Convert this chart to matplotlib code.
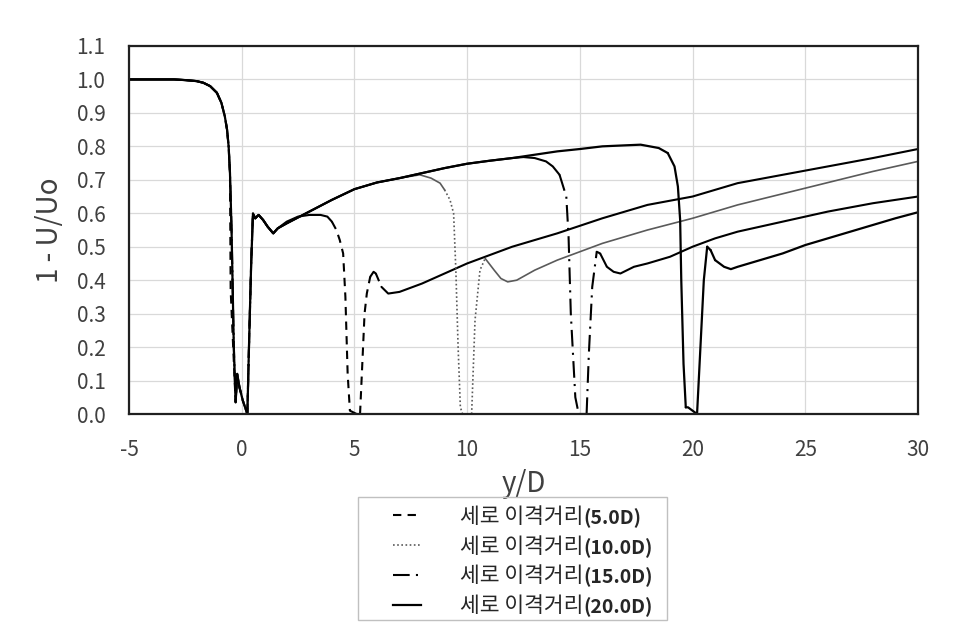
import numpy as np
import matplotlib
matplotlib.use('Agg')
import matplotlib.pyplot as plt
from matplotlib.lines import Line2D
from matplotlib.patches import Rectangle

plt.rcParams['font.family'] = ['Noto Sans CJK KR', 'DejaVu Sans']
plt.rcParams['axes.unicode_minus'] = False

# ---- data ----
# free stream part and the sharp wake of the first cylinder (shared by all cases)
x_front = [-5, -4, -3, -2.5, -2, -1.7, -1.4, -1.1, -0.9, -0.75, -0.65, -0.58, -0.52]
y_front = [1.0, 1.0, 1.0, 0.998, 0.995, 0.99, 0.98, 0.96, 0.93, 0.89, 0.85, 0.80, 0.72]
x_wake = [-0.45, -0.35, -0.27, -0.2, -0.1, 0.05, 0.25, 0.33, 0.42, 0.5, 0.6, 0.75, 0.95, 1.15, 1.4, 1.6]
y_wake = [0.55, 0.2, 0.035, 0.12, 0.08, 0.04, 0.0, 0.22, 0.45, 0.60, 0.585, 0.595, 0.58, 0.56, 0.54, 0.555]

# rising envelope between the cylinders
x_env = [2, 3, 4, 5, 6, 7, 8, 9, 10, 11, 12, 13, 14, 15, 16, 17, 17.7]
y_env = [0.57, 0.605, 0.64, 0.672, 0.692, 0.705, 0.72, 0.735, 0.748, 0.757, 0.765,
         0.775, 0.785, 0.792, 0.80, 0.803, 0.805]

x_5d = [2.0, 2.5, 3.0, 3.5, 3.8, 4.0, 4.2, 4.35, 4.5, 4.6, 4.7, 4.8, 5.1, 5.25, 5.35,
        5.45, 5.55, 5.7, 5.85, 5.95, 6.2, 6.5, 7.0, 8, 10, 12, 14, 16, 18, 20, 22, 24,
        26, 28, 30]
y_5d = [0.575, 0.59, 0.595, 0.595, 0.59, 0.575, 0.55, 0.52, 0.48, 0.35, 0.12, 0.01,
        0.0, 0.0, 0.15, 0.30, 0.36, 0.41, 0.425, 0.42, 0.38, 0.36, 0.365, 0.39, 0.45,
        0.50, 0.54, 0.585, 0.625, 0.65, 0.69, 0.715, 0.74, 0.765, 0.792]

x_10d = [7.9, 8.4, 8.8, 9.0, 9.24, 9.4, 9.5, 9.6, 9.7, 9.8, 10.2, 10.35, 10.57, 10.8,
         11.2, 11.5, 11.8, 12.2, 13, 14, 15, 16, 18, 20, 22, 25, 28, 30]
y_10d = [0.715, 0.705, 0.69, 0.67, 0.64, 0.60, 0.43, 0.2, 0.02, 0.0, 0.0, 0.28, 0.43,
         0.465, 0.43, 0.405, 0.395, 0.40, 0.43, 0.46, 0.485, 0.51, 0.55, 0.585, 0.625,
         0.675, 0.725, 0.755]

x_15d = [12.5, 13, 13.5, 13.8, 14.1, 14.4, 14.5, 14.6, 14.8, 14.95, 15.3, 15.4, 15.55,
         15.75, 15.9, 16.2, 16.5, 16.8, 17.4, 18, 19, 20, 21, 22, 24, 25, 26, 28, 30]
y_15d = [0.768, 0.765, 0.755, 0.74, 0.715, 0.65, 0.53, 0.30, 0.05, 0.0, 0.0, 0.18, 0.38,
         0.485, 0.48, 0.44, 0.425, 0.42, 0.44, 0.45, 0.47, 0.50, 0.525, 0.545, 0.575,
         0.59, 0.605, 0.63, 0.65]

x_20d = [18.5, 18.9, 19.2, 19.35, 19.45, 19.5, 19.6, 19.7, 19.8, 20.2, 20.35, 20.5,
         20.65, 20.8, 21.0, 21.4, 21.7, 22, 23, 24, 25, 26, 27, 28, 29, 30]
y_20d = [0.795, 0.78, 0.74, 0.68, 0.58, 0.40, 0.15, 0.02, 0.02, 0.0, 0.2, 0.4, 0.50,
         0.49, 0.46, 0.44, 0.433, 0.44, 0.46, 0.48, 0.505, 0.525, 0.545, 0.565, 0.585,
         0.603]

label_kr = '세로 이격거리'
label_gap = ['(5.0D)', '(10.0D)', '(15.0D)', '(20.0D)']


def build(x_tail, y_tail, env_until=None, spike=False):
    xs = list(x_front)
    ys = list(y_front)
    if spike:
        xs += [-0.49] + x_wake[2:]
        ys += [0.37] + y_wake[2:]
    else:
        xs += x_wake
        ys += y_wake
    if env_until is not None:
        for xe, ye in zip(x_env, y_env):
            if xe <= env_until:
                xs.append(xe)
                ys.append(ye)
    return xs + x_tail, ys + y_tail


series = [
    build(x_5d, y_5d, spike=True),
    build(x_10d, y_10d, env_until=7),
    build(x_15d, y_15d, env_until=12),
    build(x_20d, y_20d, env_until=17.7),
]
styles = [(0, (4, 3)), (0, (1, 1.5)), (0, (8, 3, 1, 3)), 'solid']
colors = ['black', '#5a5a5a', 'black', 'black']
widths = [1.5, 1.2, 1.5, 1.6]


def draw_series(ax, xs, ys, ls, color, lw):
    '''
    excel draws dense noisy data: gentle parts look solid, steep parts show the dash
    '''
    pts = ax.transData.transform(np.column_stack([xs, ys]))
    steep = []
    for i in range(len(xs) - 1):
        dx, dy = pts[i + 1] - pts[i]
        steep.append(abs(dy) > 1.5 * abs(dx))
    start = 0
    for i in range(1, len(steep) + 1):
        if i == len(steep) or steep[i] != steep[start]:
            style = ls if steep[start] else 'solid'
            ax.plot(xs[start:i + 1], ys[start:i + 1], color=color, lw=lw,
                    linestyle=style, solid_joinstyle='round', solid_capstyle='round')
            start = i


fig = plt.figure(figsize=(9.75, 6.35), dpi=100)
ax = fig.add_axes([0.1323, 0.348, 0.8092, 0.5796])
ax.set_xlim(-5, 30)
ax.set_ylim(0, 1.1)

for (xs, ys), ls, c, lw in zip(series, styles, colors, widths):
    draw_series(ax, xs, ys, ls, c, lw)

ax.set_xticks(range(-5, 31, 5))
ax.set_yticks(np.arange(0, 1.101, 0.1))
ax.set_yticklabels(['%.1f' % v for v in np.arange(0, 1.101, 0.1)])
ax.grid(True, color='#d9d9d9', lw=0.9)
ax.set_axisbelow(True)
ax.tick_params(length=0, labelsize=15, colors='#404040')
ax.tick_params(axis='x', pad=18)
ax.tick_params(axis='y', pad=17)
for sp in ax.spines.values():
    sp.set_color('#202020')
    sp.set_linewidth(1.6)

ax.set_xlabel('y/D', fontsize=20, color='#404040', labelpad=6)
ax.set_ylabel('1 - U/Uo', fontsize=20, color='#404040', labelpad=8)

handles = [Line2D([], [], color=c, lw=lw, linestyle=ls)
           for ls, c, lw in zip(styles, colors, widths)]
fig.add_artist(Rectangle((358 / 975, 1 - 620 / 635), (667 - 358) / 975, (620 - 497) / 635,
                         transform=fig.transFigure, fill=False, edgecolor='#c0c0c0', lw=1))
leg = fig.legend(handles, [label_kr] * 4, loc='upper left',
                 bbox_to_anchor=(393 / 975, 1 - 506 / 635),
                 frameon=False, fontsize=15.5, handlelength=1.3, handletextpad=1.8,
                 labelspacing=0.36, borderpad=0, borderaxespad=0)

# bold distance part after each korean label
fig.canvas.draw()
inv = fig.transFigure.inverted()
for txt, gap in zip(leg.get_texts(), label_gap):
    bb = txt.get_window_extent()
    x1, y0 = inv.transform((bb.x1, bb.y0))
    fig.text(x1, y0, gap, fontsize=14, fontweight='bold', color='#262626',
             ha='left', va='bottom')
for txt in leg.get_texts():
    txt.set_color('#262626')

fig.savefig('out.png', dpi=100)
